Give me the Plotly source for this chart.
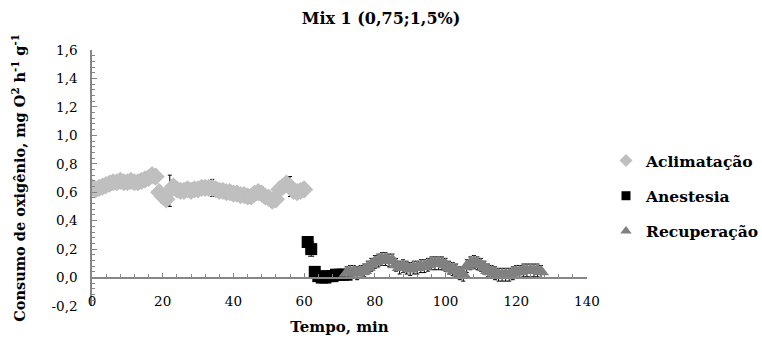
import plotly.graph_objects as go

# ---- data ----
acl_x = list(range(0, 61))
acl_y = [0.63, 0.62, 0.63, 0.64, 0.65, 0.66, 0.67, 0.67, 0.68, 0.67,
         0.67, 0.68, 0.67, 0.67, 0.68, 0.69, 0.70, 0.72, 0.71, 0.60,
         0.57, 0.55, 0.61, 0.64, 0.62, 0.61, 0.61, 0.62, 0.61, 0.62,
         0.62, 0.63, 0.63, 0.63, 0.63, 0.62, 0.61, 0.61, 0.60, 0.60,
         0.59, 0.59, 0.58, 0.58, 0.57, 0.57, 0.59, 0.60, 0.59, 0.57,
         0.56, 0.54, 0.55, 0.62, 0.64, 0.66, 0.64, 0.61, 0.60, 0.61, 0.62]
acl_err = [0.045] * 61
acl_err[22] = 0.11
acl_err[34] = 0.06
acl_err[56] = 0.07

ane_x = list(range(61, 73))
ane_y = [0.25, 0.20, 0.04, 0.01, 0.00, 0.00, 0.01, 0.01, 0.02, 0.02, 0.02, 0.02]
ane_err = [0.03, 0.05, 0.03, 0.02, 0.02, 0.02, 0.02, 0.02, 0.02, 0.02, 0.02, 0.02]

rec_x = list(range(72, 128))
rec_y = [0.03, 0.04, 0.04, 0.03, 0.04, 0.05, 0.07, 0.09, 0.11, 0.12,
         0.13, 0.13, 0.12, 0.12, 0.09, 0.07, 0.08, 0.07, 0.06, 0.07,
         0.07, 0.08, 0.08, 0.09, 0.10, 0.10, 0.10, 0.10, 0.09, 0.07,
         0.06, 0.05, 0.03, 0.02, 0.08, 0.10, 0.11, 0.10, 0.09, 0.07,
         0.05, 0.04, 0.03, 0.02, 0.02, 0.02, 0.02, 0.03, 0.04, 0.04,
         0.05, 0.05, 0.05, 0.05, 0.05, 0.04]
rec_err = [0.045] * 56

y_tickvals = [-0.2, 0.0, 0.2, 0.4, 0.6, 0.8, 1.0, 1.2, 1.4, 1.6]
y_ticktext = ["-0,2", "0,0", "0,2", "0,4", "0,6", "0,8", "1,0", "1,2", "1,4", "1,6"]
x_tickvals = [0, 20, 40, 60, 80, 100, 120, 140]

FONT = "DejaVu Serif"
AXC = "#868686"

series = [
    ("Aclimatação", acl_x, acl_y, acl_err, "diamond", 14, "#BFBFBF", 2, 10),
    ("Anestesia", ane_x, ane_y, ane_err, "square", 12, "black", 3, 9),
    ("Recuperação", rec_x, rec_y, rec_err, "triangle-up", 14, "#808080", 2, 10),
]

fig = go.Figure()
for i, (name, xs, ys, errs, sym, size, color, capw, lsize) in enumerate(series):
    fig.add_trace(go.Scatter(
        x=xs, y=ys, mode="markers", name=name, showlegend=False,
        marker=dict(symbol=sym, size=size, color=color),
        error_y=dict(type="data", array=errs, color="black", thickness=1, width=capw),
    ))
for i, (name, xs, ys, errs, sym, size, color, capw, lsize) in enumerate(series):
    fig.add_trace(go.Scatter(
        x=[None], y=[None], mode="markers", name=name, legendgroup=str(i),
        marker=dict(symbol=sym, size=lsize, color=color),
    ))

fig.update_layout(
    width=762, height=339,
    margin=dict(l=92, r=175, t=50, b=33),
    paper_bgcolor="white", plot_bgcolor="white",
    font=dict(family=FONT, size=13.5, color="black"),
    title=dict(text="<b>Mix 1 (0,75;1,5%)</b>", x=0.5, xanchor="center",
               y=1 - 18 / 339, yanchor="middle",
               font=dict(family=FONT, size=16, color="black")),
    showlegend=True,
    legend=dict(xref="container", yref="container",
                x=606 / 762, xanchor="left", y=1 - 144 / 339, yanchor="top",
                font=dict(family=FONT, size=15.5, color="black", weight="bold"),
                tracegroupgap=12, itemwidth=30, bgcolor="rgba(0,0,0,0)"),
    xaxis=dict(
        range=[0, 140], anchor="free", position=0.2 / 1.8,
        tickvals=x_tickvals, ticks="inside", ticklen=4, tickcolor=AXC,
        minor=dict(dtick=4, ticks="inside", ticklen=3, tickcolor=AXC),
        showline=True, linecolor=AXC, linewidth=1.5, showgrid=False, zeroline=False,
        ticklabelstandoff=11, automargin=False,
        title=dict(text="<b>Tempo, min</b>", standoff=13,
                   font=dict(family=FONT, size=15, color="black")),
    ),
    yaxis=dict(
        range=[-0.2, 1.6], tickvals=y_tickvals, ticktext=y_ticktext,
        ticks="inside", ticklen=5, tickcolor=AXC,
        minor=dict(dtick=0.04, ticks="inside", ticklen=3, tickcolor=AXC),
        showline=True, linecolor=AXC, linewidth=1.5, showgrid=False, zeroline=False,
        ticklabelstandoff=10, automargin=False,
        title=dict(text="<b>Consumo de oxigênio, mg O<sup>2</sup> h<sup>-1</sup> g<sup>-1</sup></b>",
                   standoff=22, font=dict(family=FONT, size=14.5, color="black")),
    ),
)

fig.write_html("out.html")
